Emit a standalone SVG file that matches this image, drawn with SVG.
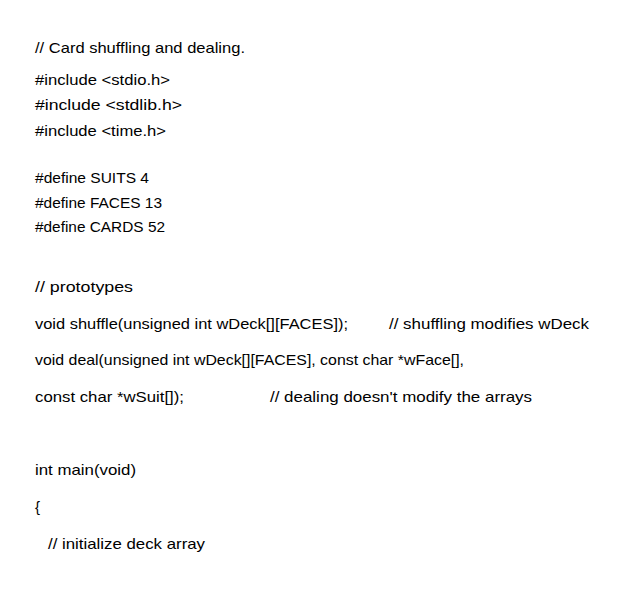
<svg xmlns="http://www.w3.org/2000/svg" width="618" height="589" viewBox="0 0 618 589">
<style>text{font-family:"Liberation Sans",Arial,sans-serif;font-size:15px;fill:#000}</style>
<rect width="618" height="589" fill="#fff"/>
<text x="35" y="53" textLength="210" lengthAdjust="spacingAndGlyphs">// Card shuffling and dealing.</text>
<text x="35" y="85" textLength="135" lengthAdjust="spacingAndGlyphs">#include &lt;stdio.h&gt;</text>
<text x="35" y="110" textLength="147" lengthAdjust="spacingAndGlyphs">#include &lt;stdlib.h&gt;</text>
<text x="35" y="136" textLength="131" lengthAdjust="spacingAndGlyphs">#include &lt;time.h&gt;</text>
<text x="35" y="183" textLength="114" lengthAdjust="spacingAndGlyphs">#define SUITS 4</text>
<text x="35" y="208" textLength="127" lengthAdjust="spacingAndGlyphs">#define FACES 13</text>
<text x="35" y="232" textLength="130" lengthAdjust="spacingAndGlyphs">#define CARDS 52</text>
<text x="35" y="292" textLength="98" lengthAdjust="spacingAndGlyphs">// prototypes</text>
<text x="35" y="329" textLength="313" lengthAdjust="spacingAndGlyphs">void shuffle(unsigned int wDeck[][FACES]);</text>
<text x="389" y="329" textLength="200" lengthAdjust="spacingAndGlyphs">// shuffling modifies wDeck</text>
<text x="35" y="365" textLength="429" lengthAdjust="spacingAndGlyphs">void deal(unsigned int wDeck[][FACES], const char *wFace[],</text>
<text x="35" y="402" textLength="149" lengthAdjust="spacingAndGlyphs">const char *wSuit[]);</text>
<text x="270" y="402" textLength="262" lengthAdjust="spacingAndGlyphs">// dealing doesn't modify the arrays</text>
<text x="35" y="475" textLength="101" lengthAdjust="spacingAndGlyphs">int main(void)</text>
<text x="35" y="512">{</text>
<text x="48" y="549" textLength="157" lengthAdjust="spacingAndGlyphs">// initialize deck array</text>
</svg>
